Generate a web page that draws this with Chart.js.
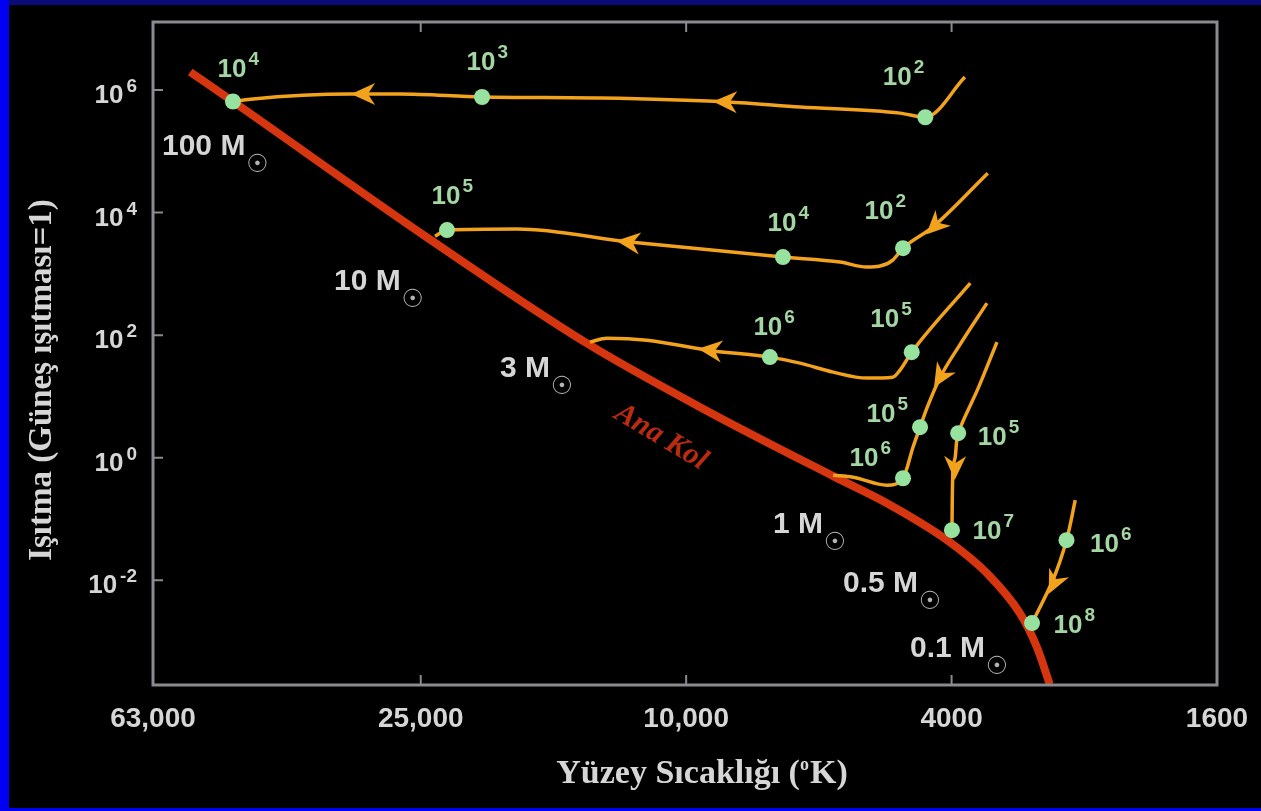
<!DOCTYPE html>
<html>
<head>
<meta charset="utf-8">
<script src="https://cdn.jsdelivr.net/npm/chart.js@4/dist/chart.umd.min.js"></script>
<style>
  html, body { margin: 0; padding: 0; background: #000; }
  canvas { display: block; }
</style>
</head>
<body>
<canvas id="hr" width="1261" height="811"></canvas>
<script>
'use strict';

// main sequence ("Ana Kol"): surface temperature (K) and luminosity (Sun = 1)
const msTemp = [55400, 47800, 24500, 14100, 9530, 6020, 5000, 4060, 3540, 3160, 2980, 2850];
const msLum  = [1.97e6, 6.5e5, 3980, 74, 6.68, 0.5, 0.181, 0.045, 0.013, 0.0029, 0.00081, 0.0002];

// pre-main-sequence tracks, listed in the direction the star moves
const track100Temp = [3820, 4380, 4780, 6750, 8680, 13460, 20230, 26850, 31900, 45000, 47800];
const track100Lum  = [1.63e6, 3.6e5, 4.2e5, 5.3e5, 6.4e5, 7.4e5, 7.7e5, 8.6e5, 8.6e5, 7.1e5, 6.5e5];
const track10Temp  = [3530, 4270, 4730, 4900, 5120, 5360, 5880, 7160, 12140, 17930, 22830, 23800];
const track10Lum   = [44000, 5800, 2630, 1680, 1340, 1290, 1560, 1880, 3300, 5380, 5180, 4100];
const track3Temp   = [3750, 4590, 4780, 4900, 5360, 6020, 6750, 7490, 9300, 11450, 13140, 13940];
const track3Lum    = [706, 52.7, 26.8, 20.6, 19.9, 24.9, 34.9, 43.8, 56.9, 82.8, 89.3, 76.9];
const track1Temp   = [3540, 3890, 4160, 4350, 4460, 4570, 4730, 5000, 5620, 6020];
const track1Lum    = [333, 68.8, 20.6, 6.67, 3.15, 1.48, 0.462, 0.356, 0.481, 0.518];
const track05Temp  = [3420, 3650, 3910, 3950, 3980, 3995];
const track05Lum   = [77, 13.5, 2.51, 1.02, 0.70, 0.0655];
const track01Temp  = [2610, 2690, 2820, 3030];
const track01Lum   = [0.202, 0.045, 0.01, 0.002];

// age markers (years = 10^exp)
const dotTemp = [47800, 20230, 4380, 22830, 7160, 4730, 7490, 4590, 4460, 4730, 3910, 3995, 2690, 3030];
const dotLum  = [6.5e5, 7.7e5, 3.6e5, 5180, 1880, 2630, 43.8, 52.7, 3.15, 0.462, 2.51, 0.0655, 0.045, 0.002];
const dotExp  = ['4', '3', '2', '5', '4', '2', '6', '5', '5', '6', '5', '7', '6', '8'];

// direction arrows: which track, and where on it
const arrowTrack = [0, 0, 1, 1, 2, 3, 4, 5];
const arrowTemp  = [8745, 30500, 4240, 12220, 9210, 4160, 3954, 2810];
const arrowLum   = [6.4e5, 8.6e5, 6000, 3300, 56.9, 20.6, 0.68, 0.0089];

const massNames = ['100', '10', '3', '1', '0.5', '0.1'];

// axis ticks
const xTickValues = [63000, 25000, 10000, 4000, 1600];
const xTickLabels = ['63,000', '25,000', '10,000', '4000', '1600'];
const yTickValues = [1e6, 1e4, 1e2, 1, 1e-2];
const yTickExp    = ['6', '4', '2', '0', '-2'];

// ---- layout (pixels) ----
const dotLabelOffset = [[-1, -34], [-1, -36], [-28, -41], [-1, -35], [-1, -35], [-24, -38], [-2, -31],
                        [-27, -34], [-39, -14], [-39, -21], [34, 3], [35, 0], [38, 3], [36, 1]];
const massLabelPos = [[162, 155], [334, 290], [500, 377], [773, 533], [843, 592], [910, 657]];

// curve style per track: the nearly vertical ones use a plain spline
const tracks = [
  { temp: track100Temp, lum: track100Lum, mode: 'monotone' },
  { temp: track10Temp, lum: track10Lum, mode: 'monotone' },
  { temp: track3Temp, lum: track3Lum, mode: 'monotone' },
  { temp: track1Temp, lum: track1Lum, mode: 'monotone' },
  { temp: track05Temp, lum: track05Lum, mode: 'default' },
  { temp: track01Temp, lum: track01Lum, mode: 'default' }
];

const toPts = (t, l) => t.map((v, i) => ({ x: v, y: l[i] }));

const ORANGE = '#f2a21c';
const GREEN_TXT = '#a4d6a4';
const GREY_TXT = '#d6d6d6';

// "10" with a raised exponent; x = left edge, y = baseline
function powerText(ctx, x, y, baseFont, supFont, sup, rise, gap) {
  ctx.font = baseFont;
  ctx.fillText('10', x, y);
  const w = ctx.measureText('10').width;
  ctx.font = supFont;
  ctx.fillText(sup, x + w + gap, y - rise);
}

const backdrop = {
  id: 'backdrop',
  beforeDraw(chart) {
    const ctx = chart.ctx;
    ctx.save();
    ctx.fillStyle = '#0000f2';
    ctx.fillRect(0, 0, chart.width, chart.height);
    ctx.fillStyle = '#0a0a78';
    ctx.fillRect(9, 0, chart.width - 9, 5);
    ctx.fillStyle = '#000';
    ctx.fillRect(9, 5, chart.width - 9, chart.height - 8);
    ctx.restore();
  }
};

const arrows = {
  id: 'arrows',
  afterDatasetsDraw(chart) {
    const ctx = chart.ctx, xs = chart.scales.x, ys = chart.scales.y;
    ctx.save();
    ctx.fillStyle = ORANGE;
    arrowTemp.forEach((t, i) => {
      const tr = tracks[arrowTrack[i]];
      const px = xs.getPixelForValue(t), py = ys.getPixelForValue(arrowLum[i]);
      let best = Infinity, dx = -1, dy = 0;
      for (let k = 0; k < tr.temp.length - 1; k++) {
        const ax = xs.getPixelForValue(tr.temp[k]), ay = ys.getPixelForValue(tr.lum[k]);
        const bx = xs.getPixelForValue(tr.temp[k + 1]), by = ys.getPixelForValue(tr.lum[k + 1]);
        const vx = bx - ax, vy = by - ay, l2 = vx * vx + vy * vy;
        let u = ((px - ax) * vx + (py - ay) * vy) / l2;
        u = Math.max(0, Math.min(1, u));
        const d = Math.hypot(ax + u * vx - px, ay + u * vy - py);
        if (d < best) { best = d; const l = Math.sqrt(l2); dx = vx / l; dy = vy / l; }
      }
      const len = 24, half = 11;
      const nx = -dy, ny = dx;
      const bx = px - dx * len / 2, by = py - dy * len / 2;
      ctx.beginPath();
      ctx.moveTo(px + dx * len / 2, py + dy * len / 2);
      ctx.lineTo(bx + nx * half, by + ny * half);
      ctx.lineTo(px - dx * len * 0.2, py - dy * len * 0.2);
      ctx.lineTo(bx - nx * half, by - ny * half);
      ctx.closePath();
      ctx.fill();
    });
    ctx.restore();
  }
};

const decor = {
  id: 'decor',
  afterDraw(chart) {
    const ctx = chart.ctx, xs = chart.scales.x, ys = chart.scales.y;
    const a = chart.chartArea;
    ctx.save();

    // frame and inward ticks
    ctx.strokeStyle = '#8a8a90';
    ctx.lineWidth = 3;
    ctx.strokeRect(a.left, a.top, a.right - a.left, a.bottom - a.top);
    ctx.lineWidth = 2;
    ctx.beginPath();
    yTickValues.forEach(v => {
      const y = ys.getPixelForValue(v);
      ctx.moveTo(a.left, y); ctx.lineTo(a.left + 10, y);
    });
    xTickValues.slice(1, -1).forEach(v => {
      const x = xs.getPixelForValue(v);
      ctx.moveTo(x, a.bottom); ctx.lineTo(x, a.bottom - 10);
      ctx.moveTo(x, a.top); ctx.lineTo(x, a.top + 10);
    });
    ctx.stroke();

    // tick labels
    ctx.fillStyle = GREY_TXT;
    ctx.textBaseline = 'alphabetic';
    ctx.textAlign = 'center';
    ctx.font = 'bold 28px "Liberation Sans"';
    xTickValues.forEach((v, i) => ctx.fillText(xTickLabels[i], xs.getPixelForValue(v), 727));
    ctx.textAlign = 'left';
    yTickValues.forEach((v, i) => {
      const y = ys.getPixelForValue(v);
      ctx.font = 'bold 19px "Liberation Sans"';
      const sw = ctx.measureText(yTickExp[i]).width;
      ctx.font = 'bold 26px "Liberation Sans"';
      const bw = ctx.measureText('10').width;
      powerText(ctx, 137 - sw - 3 - bw, y + 13, 'bold 26px "Liberation Sans"', 'bold 19px "Liberation Sans"', yTickExp[i], 11, 3);
    });

    // axis titles
    ctx.fillStyle = GREY_TXT;
    const tf = 'bold 34px "Liberation Serif"', sf = 'bold 18px "Liberation Serif"';
    ctx.font = tf;
    const p1 = 'Yüzey Sıcaklığı (', p2 = 'K)';
    const w1 = ctx.measureText(p1).width, w3 = ctx.measureText(p2).width;
    ctx.font = sf;
    const w2 = ctx.measureText('o').width + 1;
    const tx = 702 - (w1 + w2 + w3) / 2;
    ctx.font = tf; ctx.fillText(p1, tx, 783);
    ctx.font = sf; ctx.fillText('o', tx + w1, 770);
    ctx.font = tf; ctx.fillText(p2, tx + w1 + w2, 783);

    ctx.save();
    ctx.translate(51, 380);
    ctx.rotate(-Math.PI / 2);
    ctx.textAlign = 'center';
    ctx.font = 'bold 33px "Liberation Serif"';
    ctx.fillText('Işıtma (Güneş ışıtması=1)', 0, 0);
    ctx.restore();

    // age labels next to the markers
    ctx.fillStyle = GREEN_TXT;
    ctx.font = 'bold 26px "Liberation Sans"';
    const tw = ctx.measureText('10').width;
    dotTemp.forEach((t, i) => {
      const cx = xs.getPixelForValue(t) + dotLabelOffset[i][0];
      const cy = ys.getPixelForValue(dotLum[i]) + dotLabelOffset[i][1];
      powerText(ctx, cx - tw / 2, cy + 9, 'bold 26px "Liberation Sans"', 'bold 19px "Liberation Sans"', dotExp[i], 12, 2);
    });

    // stellar masses
    massNames.forEach((m, i) => {
      const [x, y] = massLabelPos[i];
      ctx.fillStyle = GREY_TXT;
      ctx.font = 'bold 30px "Liberation Sans"';
      const t = m + ' M';
      ctx.fillText(t, x, y);
      const w = ctx.measureText(t).width;
      ctx.fillStyle = '#b4b4b4';
      ctx.font = 'bold 25px "DejaVu Sans"';
      ctx.textAlign = 'center';
      ctx.fillText('☉', x + w + 12, y + 17);
      ctx.textAlign = 'left';
    });

    // main sequence name
    ctx.save();
    ctx.translate(661, 437);
    ctx.rotate(31 * Math.PI / 180);
    ctx.textAlign = 'center';
    ctx.fillStyle = '#bc2a10';
    ctx.font = 'italic bold 30px "Liberation Serif"';
    ctx.fillText('Ana Kol', 0, 8);
    ctx.restore();

    ctx.restore();
  }
};

new Chart(document.getElementById('hr').getContext('2d'), {
  type: 'scatter',
  data: {
    datasets: [
      {
        data: toPts(dotTemp, dotLum),
        showLine: false,
        pointRadius: 8,
        pointBackgroundColor: '#98e2a0',
        pointBorderWidth: 0,
        order: 0
      },
      ...tracks.map(tr => ({
        data: toPts(tr.temp, tr.lum),
        showLine: true,
        borderColor: ORANGE,
        borderWidth: 3.5,
        pointRadius: 0,
        cubicInterpolationMode: tr.mode,
        tension: 0.3,
        order: 1
      })),
      {
        data: toPts(msTemp, msLum),
        showLine: true,
        borderColor: '#d6360f',
        borderWidth: 8,
        pointRadius: 0,
        cubicInterpolationMode: 'monotone',
        order: 2
      }
    ]
  },
  options: {
    responsive: false,
    animation: false,
    events: [],
    layout: { padding: { left: 153, right: 44, top: 22, bottom: 126 } },
    plugins: { legend: { display: false }, tooltip: { enabled: false } },
    scales: {
      x: { type: 'logarithmic', reverse: true, min: 1600, max: 63000, display: false },
      y: { type: 'logarithmic', min: 1.95e-4, max: 1.29e7, display: false }
    }
  },
  plugins: [backdrop, arrows, decor]
});
</script>
</body>
</html>
